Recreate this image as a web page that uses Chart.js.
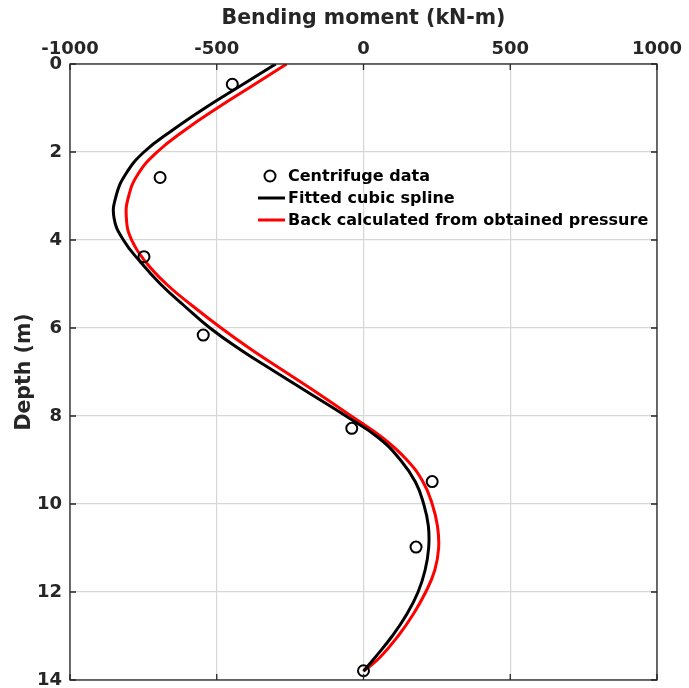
<!DOCTYPE html>
<html>
<head>
<meta charset="utf-8">
<script src="https://cdn.jsdelivr.net/npm/chart.js@4.4.1/dist/chart.umd.min.js"></script>
<style>
  html, body { margin: 0; padding: 0; background: #fff; }
  #wrap { width: 689px; height: 688px; position: relative; }
</style>
</head>
<body>
<div id="wrap"><canvas id="momentChart"></canvas></div>
<script>
// depth samples (m) along the pile for the two curves
var curveDepth = [0, 0.5, 1, 1.5, 2, 2.5, 3, 3.5, 4, 4.5, 5, 5.5, 6, 6.5, 7, 7.5, 8, 8.5, 9, 9.5, 10, 10.5, 11, 11.5, 12, 12.5, 13, 13.5, 13.8];
// fitted cubic spline (kN-m)
var splineMoment = [-299, -420, -540, -650, -748, -810, -843, -850, -818, -760, -692, -610, -523, -418, -300, -180, -60, 52, 126, 177, 205, 221, 222, 210, 186, 148, 98, 38, 0];
// back calculated from obtained pressure (kN-m)
var backCalcMoment = [-262, -380, -498, -608, -703, -768, -800, -808, -790, -742, -672, -582, -485, -380, -266, -152, -42, 66, 148, 203, 234, 252, 256, 243, 212, 170, 118, 54, 0];
// centrifuge measurements
var testDepth = [0.46, 2.58, 4.38, 6.16, 8.28, 9.49, 10.98, 13.79];
var testMoment = [-447, -693, -748, -546, -40, 234, 179, 0];

var xTicks = [-1000, -500, 0, 500, 1000];
var yTicks = [0, 2, 4, 6, 8, 10, 12, 14];

var axisColor = "#262626";
var gridColor = "#d6d6d6";
var fontFamily = "'DejaVu Sans', sans-serif";

function toPoints(xs, ys) {
  var pts = [];
  for (let i = 0; i < xs.length; i++) {
    pts.push({ x: xs[i], y: ys[i] });
  }
  return pts;
}

// box around the plot with inward tick marks
var boxPlugin = {
  id: "boxPlugin",
  afterDatasetsDraw: function (chart) {
    var ctx = chart.ctx;
    var a = chart.chartArea;
    var xs = chart.scales.x, ys = chart.scales.y;
    var len = 6;
    ctx.save();
    ctx.strokeStyle = axisColor;
    ctx.lineWidth = 1.3;
    ctx.strokeRect(a.left, a.top, a.right - a.left, a.bottom - a.top);
    ctx.beginPath();
    for (const t of xTicks) {
      var px = xs.getPixelForValue(t);
      ctx.moveTo(px, a.top); ctx.lineTo(px, a.top + len);
      ctx.moveTo(px, a.bottom); ctx.lineTo(px, a.bottom - len);
    }
    for (const t of yTicks) {
      var py = ys.getPixelForValue(t);
      ctx.moveTo(a.left, py); ctx.lineTo(a.left + len, py);
      ctx.moveTo(a.right, py); ctx.lineTo(a.right - len, py);
    }
    ctx.stroke();
    ctx.restore();
  }
};

// legend drawn inside the axes
var legendPlugin = {
  id: "insideLegend",
  afterDraw: function (chart) {
    var ctx = chart.ctx;
    var sets = chart.data.datasets;
    var x0 = 258, textX = 288;
    var rows = [176, 198, 220];
    ctx.save();
    ctx.font = "bold 16px " + fontFamily;
    ctx.textBaseline = "middle";
    ctx.fillStyle = "#000";
    for (let i = 0; i < sets.length; i++) {
      var ds = sets[i];
      var y = rows[i];
      if (ds.showLine === false) {
        ctx.beginPath();
        ctx.lineWidth = 2;
        ctx.strokeStyle = ds.borderColor;
        ctx.arc(x0 + 12, y, 5.5, 0, Math.PI * 2);
        ctx.stroke();
      } else {
        ctx.beginPath();
        ctx.lineWidth = 3;
        ctx.strokeStyle = ds.borderColor;
        ctx.moveTo(x0, y); ctx.lineTo(x0 + 27, y);
        ctx.stroke();
      }
      ctx.fillText(ds.label, textX, y + 1);
    }
    ctx.restore();
  }
};

var ctx = document.getElementById("momentChart");
new Chart(ctx, {
  type: "scatter",
  data: {
    datasets: [
      {
        label: "Centrifuge data",
        data: toPoints(testMoment, testDepth),
        showLine: false,
        borderColor: "#000",
        backgroundColor: "rgba(0,0,0,0)",
        borderWidth: 2,
        pointRadius: 5.5,
        order: 0
      },
      {
        label: "Fitted cubic spline",
        data: toPoints(splineMoment, curveDepth),
        showLine: true,
        borderColor: "#000",
        borderWidth: 3,
        pointRadius: 0,
        tension: 0.45,
        order: 1
      },
      {
        label: "Back calculated from obtained pressure",
        data: toPoints(backCalcMoment, curveDepth),
        showLine: true,
        borderColor: "#ff0000",
        borderWidth: 3,
        pointRadius: 0,
        tension: 0.45,
        order: 2
      }
    ]
  },
  options: {
    responsive: true,
    maintainAspectRatio: false,
    animation: false,
    layout: { padding: { top: 0, left: 0, right: 32, bottom: 8 } },
    plugins: {
      legend: { display: false },
      tooltip: { enabled: false }
    },
    scales: {
      x: {
        type: "linear",
        position: "top",
        min: -1000,
        max: 1000,
        afterBuildTicks: function (scale) {
          scale.ticks = xTicks.map(function (v) { return { value: v }; });
        },
        afterFit: function (scale) {
          scale.height = 64;
          scale.paddingLeft = 0;
          scale.paddingRight = 0;
        },
        grid: { color: gridColor, lineWidth: 1.2, drawTicks: false },
        border: { display: false },
        ticks: {
          color: axisColor,
          font: { family: fontFamily, size: 18, weight: "bold" },
          padding: 4,
          maxRotation: 0,
          callback: function (v) { return String(v); }
        },
        title: {
          display: true,
          text: "Bending moment (kN-m)",
          color: axisColor,
          font: { family: fontFamily, size: 20.5, weight: "bold" },
          padding: { top: 6, bottom: 0 }
        }
      },
      y: {
        type: "linear",
        reverse: true,
        min: 0,
        max: 14,
        afterBuildTicks: function (scale) {
          scale.ticks = yTicks.map(function (v) { return { value: v }; });
        },
        afterFit: function (scale) {
          scale.width = 70;
          scale.paddingTop = 0;
          scale.paddingBottom = 0;
        },
        grid: { color: gridColor, lineWidth: 1.2, drawTicks: false },
        border: { display: false },
        ticks: {
          color: axisColor,
          font: { family: fontFamily, size: 18, weight: "bold" },
          padding: 8,
          callback: function (v) { return String(v); }
        },
        title: {
          display: true,
          text: "Depth (m)",
          color: axisColor,
          font: { family: fontFamily, size: 20.5, weight: "bold" },
          padding: { top: 12, bottom: 0 }
        }
      }
    }
  },
  plugins: [boxPlugin, legendPlugin]
});
</script>
</body>
</html>
